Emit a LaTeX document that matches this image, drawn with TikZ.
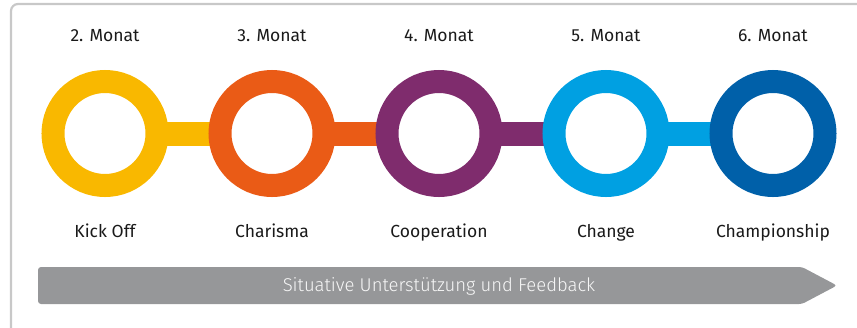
\documentclass[tikz,border=0pt]{standalone}
\usepackage{fontspec}
\setmainfont{Fira Sans}
\newfontfamily\bannerfont{Fira Sans Light}
\usetikzlibrary{backgrounds}
\definecolor{cyellow}{HTML}{F9B800}
\definecolor{corange}{HTML}{EA5B16}
\definecolor{cpurple}{HTML}{7F2C6D}
\definecolor{clblue}{HTML}{00A0E2}
\definecolor{cdblue}{HTML}{0060A9}
\definecolor{cframe}{HTML}{C8C8C8}
\definecolor{carrow}{HTML}{969799}
\definecolor{ctext}{HTML}{1A1A1A}
\begin{document}
\begin{tikzpicture}[x=1pt,y=-1pt,
  ring/.style={circle,draw=#1,fill=white,line width=23pt,minimum size=104pt,inner sep=0pt},
  bar/.style={draw=#1,line width=24pt},
  month/.style={anchor=base,font=\fontsize{17.5}{20}\selectfont,text=ctext},
  phase/.style={anchor=base,font=\fontsize{17.5}{20}\selectfont,text=ctext},
  banner/.style={anchor=base,font=\fontsize{18.5}{21}\selectfont,text=white!94!gray}]
\useasboundingbox (0,0) rectangle (857,327);
\begin{scope}
\clip (0,0) rectangle (857,327);
\draw[cframe,line width=2.2pt,rounded corners=7pt] (11,4) rectangle (880,350);
\end{scope}
\node[ring=cyellow] (r1) at (105,133.5) {};
\node[ring=corange] (r2) at (272,133.5) {};
\node[ring=cpurple] (r3) at (439,133.5) {};
\node[ring=clblue] (r4) at (606,133.5) {};
\node[ring=cdblue] (r5) at (773,133.5) {};
\begin{scope}[on background layer]
\draw[bar=cyellow] (r1.center) -- (r2.center);
\draw[bar=corange] (r2.center) -- (r3.center);
\draw[bar=cpurple] (r3.center) -- (r4.center);
\draw[bar=clblue] (r4.center) -- (r5.center);
\end{scope}
\node[month] (m1) at (105,41) {2. Monat};
\node[month] (m2) at (272,41) {3. Monat};
\node[month] (m3) at (439,41) {4. Monat};
\node[month] (m4) at (606,41) {5. Monat};
\node[month] (m5) at (773,41) {6. Monat};
\node[phase] (p1) at (105,237) {Kick Off};
\node[phase] (p2) at (272,237) {Charisma};
\node[phase] (p3) at (439,237) {Cooperation};
\node[phase] (p4) at (606,237) {Change};
\node[phase] (p5) at (773,237) {Championship};
\fill[carrow,rounded corners=3pt] (38,267) -- (802,267) -- (837,285.5) -- (802,304) -- (38,304) -- cycle;
\node[banner] (b) at (439,291.5) {\bannerfont Situative Unterstützung und Feedback};
\end{tikzpicture}
\end{document}
